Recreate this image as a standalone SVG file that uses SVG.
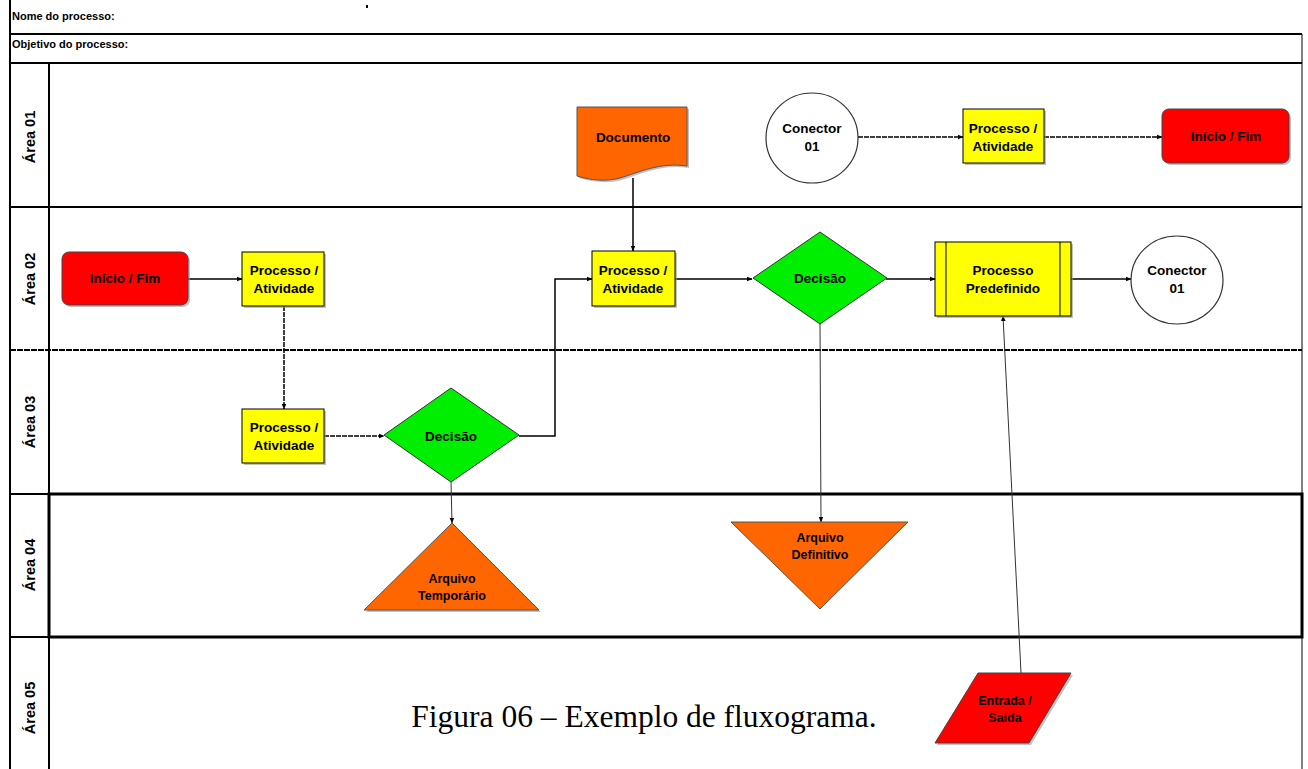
<svg xmlns="http://www.w3.org/2000/svg" width="1308" height="769" viewBox="0 0 1308 769">
<style>
.frame{stroke:#000;stroke-width:2;fill:none}
.thick{stroke:#000;stroke-width:3;fill:none}
.lbl{font-family:"Liberation Sans",Arial,sans-serif;font-weight:bold;font-size:13.5px;fill:#000;text-anchor:middle}
.sm{font-size:12.5px}
.hdr{font-family:"Liberation Sans",Arial,sans-serif;font-weight:bold;font-size:11px;fill:#000}
.lane{font-family:"Liberation Sans",Arial,sans-serif;font-weight:bold;font-size:14.5px;fill:#000;text-anchor:middle}
.proc{fill:#ffff00;stroke:#000;stroke-width:1}
.term{fill:#ff0000;stroke:#444;stroke-width:1}
.dec{fill:#00ee00;stroke:#333;stroke-width:1}
.org{fill:#ff6600;stroke:#555;stroke-width:1}
.con{fill:#fff;stroke:#333;stroke-width:1.2}
.sh{fill:#999;opacity:0.6}
.edge{stroke:#000;stroke-width:1.5;fill:none;marker-end:url(#ah)}
.thin{stroke:#333;stroke-width:1;fill:none;marker-end:url(#ah)}
</style>
<defs>
<marker id="ah" viewBox="0 0 10 10" refX="9" refY="5" markerWidth="6" markerHeight="6" markerUnits="userSpaceOnUse" orient="auto">
<path d="M0,1 L10,5 L0,9 Z" fill="#000"/>
</marker>
</defs>
<rect x="0" y="0" width="1308" height="769" fill="#fff"/>
<g id="frame">
<line class="frame" x1="10" y1="0" x2="10" y2="769"/>
<line class="frame" x1="10" y1="34" x2="1302" y2="34"/>
<line class="frame" x1="10" y1="63" x2="1302" y2="63"/>
<line class="frame" x1="49" y1="63" x2="49" y2="769"/>
<line class="frame" x1="10" y1="207" x2="1302" y2="207"/>
<line class="frame" x1="10" y1="350" x2="1302" y2="350" stroke-dasharray="6,1"/>
<line class="frame" x1="10" y1="494" x2="49" y2="494"/>
<rect class="thick" x="49" y="494" width="1253" height="143"/>
<line class="frame" x1="10" y1="637" x2="49" y2="637"/>
<line x1="1302" y1="34" x2="1302" y2="769" stroke="#000" stroke-width="1"/>
<rect x="366" y="5" width="2" height="3" fill="#000"/>
<text class="hdr" x="12" y="20">Nome do processo:</text>
<text class="hdr" x="12" y="48">Objetivo do processo:</text>
<text class="lane" transform="translate(35,137) rotate(-90)">Área 01</text>
<text class="lane" transform="translate(35,279) rotate(-90)">Área 02</text>
<text class="lane" transform="translate(35,422) rotate(-90)">Área 03</text>
<text class="lane" transform="translate(35,565) rotate(-90)">Área 04</text>
<text class="lane" transform="translate(35,708) rotate(-90)">Área 05</text>
</g>
<g id="connectors">
<line class="edge" x1="188" y1="279" x2="242" y2="279"/>
<line class="edge" x1="284" y1="306" x2="284" y2="409" stroke-dasharray="5,1"/>
<line class="edge" x1="324" y1="436" x2="384" y2="436" stroke-dasharray="5,1"/>
<polyline class="edge" points="519,436 555,436 555,279 592,279"/>
<line class="edge" x1="633" y1="178" x2="633" y2="251"/>
<line class="edge" x1="675" y1="279" x2="752" y2="279"/>
<line class="edge" x1="886" y1="279" x2="935" y2="279"/>
<line class="edge" x1="1071" y1="279" x2="1131" y2="279"/>
<line class="thin" x1="820" y1="324" x2="821" y2="522"/>
<line class="thin" x1="451" y1="482" x2="452" y2="523"/>
<line class="thin" x1="1021" y1="673" x2="1003" y2="316"/>
<line class="edge" x1="858" y1="137" x2="963" y2="137" stroke-dasharray="5,1"/>
<line class="edge" x1="1044" y1="137" x2="1162" y2="137" stroke-dasharray="5,1"/>
</g>
<g id="n-documento">
<path class="sh" d="M579,109 H689 V168 C662,164 642,174 622,180 C607,184 592,182 579,178 Z"/>
<path class="org" d="M577,107 H687 V166 C660,162 640,172 620,178 C605,182 590,180 577,176 Z"/>
<text class="lbl" x="633" y="142">Documento</text>
</g>
<g id="n-conector-top">
<ellipse class="con" cx="812" cy="138" rx="46" ry="45"/>
<text class="lbl" x="812" y="133">Conector</text>
<text class="lbl" x="812" y="151">01</text>
</g>
<g id="n-proc-top">
<rect class="sh" x="965" y="111" width="81" height="54"/>
<rect class="proc" x="963" y="109" width="81" height="54"/>
<text class="lbl" x="1003" y="133">Processo /</text>
<text class="lbl" x="1003" y="151">Atividade</text>
</g>
<g id="n-inicio-top">
<rect class="sh" x="1164" y="111" width="127" height="54" rx="7"/>
<rect class="term" x="1162" y="109" width="127" height="54" rx="7"/>
<text class="lbl" x="1226" y="141">Início / Fim</text>
</g>
<g id="n-inicio-a02">
<rect class="sh" x="64" y="254" width="126" height="53" rx="7"/>
<rect class="term" x="62" y="252" width="126" height="53" rx="7"/>
<text class="lbl" x="125" y="283">Início / Fim</text>
</g>
<g id="n-proc-a02a">
<rect class="sh" x="244" y="254" width="82" height="54"/>
<rect class="proc" x="242" y="252" width="82" height="54"/>
<text class="lbl" x="284" y="275">Processo /</text>
<text class="lbl" x="284" y="293">Atividade</text>
</g>
<g id="n-proc-a02b">
<rect class="sh" x="594" y="253" width="83" height="55"/>
<rect class="proc" x="592" y="251" width="83" height="55"/>
<text class="lbl" x="633" y="275">Processo /</text>
<text class="lbl" x="633" y="293">Atividade</text>
</g>
<g id="n-decisao-a02">
<polygon class="dec" points="820,232 887,278 820,324 753,278"/>
<text class="lbl" x="820" y="283">Decisão</text>
</g>
<g id="n-predefinido">
<rect class="sh" x="937" y="244" width="136" height="74"/>
<rect class="proc" x="935" y="242" width="136" height="74"/>
<line x1="946" y1="242" x2="946" y2="316" stroke="#000" stroke-width="1"/>
<line x1="1060" y1="242" x2="1060" y2="316" stroke="#000" stroke-width="1"/>
<text class="lbl" x="1003" y="275">Processo</text>
<text class="lbl" x="1003" y="293">Predefinido</text>
</g>
<g id="n-conector-a02">
<ellipse class="con" cx="1177" cy="280" rx="46" ry="44"/>
<text class="lbl" x="1177" y="275">Conector</text>
<text class="lbl" x="1177" y="293">01</text>
</g>
<g id="n-proc-a03">
<rect class="sh" x="244" y="411" width="82" height="54"/>
<rect class="proc" x="242" y="409" width="82" height="54"/>
<text class="lbl" x="284" y="432">Processo /</text>
<text class="lbl" x="284" y="450">Atividade</text>
</g>
<g id="n-decisao-a03">
<polygon class="dec" points="451,388 519,435 451,482 384,435"/>
<text class="lbl" x="451" y="441">Decisão</text>
</g>
<g id="n-arq-temp">
<polygon class="sh" points="453,525 541,612 366,612"/>
<polygon class="org" points="452,523 539,610 364,610"/>
<text class="lbl sm" x="452" y="583">Arquivo</text>
<text class="lbl sm" x="452" y="600">Temporário</text>
</g>
<g id="n-arq-def">
<polygon class="org" points="731,522 908,522 820,609"/>
<text class="lbl sm" x="820" y="542">Arquivo</text>
<text class="lbl sm" x="820" y="559">Definitivo</text>
</g>
<g id="n-entrada">
<polygon class="sh" points="980,675 1073,675 1031,745 937,745"/>
<polygon class="term" points="978,673 1071,673 1029,743 935,743"/>
<text class="lbl sm" x="1005" y="705">Entrada /</text>
<text class="lbl sm" x="1005" y="722">Saída</text>
</g>
<text x="644" y="727" font-family="'Liberation Serif','Times New Roman',serif" font-size="31.5" text-anchor="middle" fill="#000">Figura 06 – Exemplo de fluxograma.</text>
</svg>
